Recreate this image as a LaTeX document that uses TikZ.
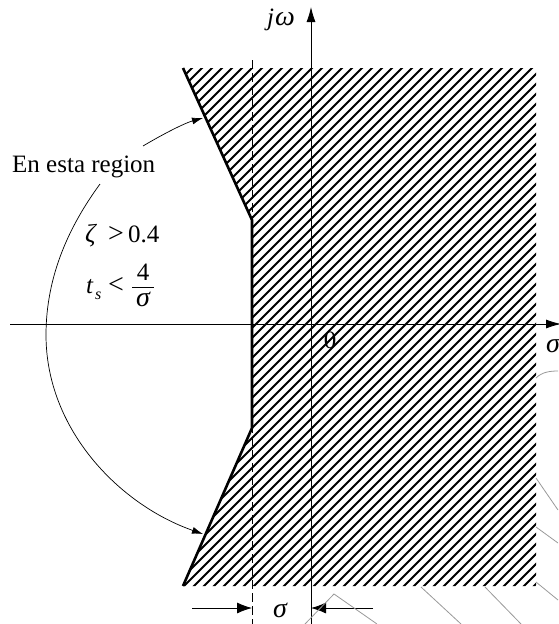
\documentclass[tikz,border=0pt]{standalone}
\usepackage{fontspec}
\setmainfont{Liberation Serif}
\usetikzlibrary{arrows.meta}
\begin{document}
\begin{tikzpicture}[x=1pt,y=-1pt,
  txt/.style={inner sep=0pt, font=\fontsize{25}{29}\selectfont},
  reltxt/.style={inner sep=0pt, font=\fontsize{28}{32}\selectfont},
  greektxt/.style={inner sep=0pt, font=\fontsize{26}{30}\selectfont\itshape},
  bigtxt/.style={inner sep=0pt, font=\fontsize{28}{32}\selectfont\itshape},
  subtxt/.style={inner sep=0pt, font=\fontsize{16}{19}\selectfont\itshape},
  axis/.style={line width=0.8pt, -{Latex[length=15pt,width=9pt]}},
  dimarrow/.style={line width=0.8pt, -{Latex[length=15pt,width=11pt]}},
  callout/.style={line width=0.7pt, -{Latex[length=11pt,width=7pt]}},
  bound/.style={line width=2.6pt, line join=miter},
  hatchline/.style={line width=1.8pt},
  ghost/.style={black!40, line width=0.8pt},
  fracbar/.style={line width=1pt}
]
\useasboundingbox (0,0) rectangle (558,624);

% region corners
\coordinate (p1) at (183,68);
\coordinate (p2) at (252,220);
\coordinate (p3) at (252,428);
\coordinate (p4) at (183,586);
\coordinate (p5) at (536,586);
\coordinate (p6) at (536,68);

% hatching
\begin{scope}
  \clip (p1) -- (p2) -- (p3) -- (p4) -- (p5) -- (p6) -- cycle;
  \foreach \c in {240,250,...,1140} \draw[hatchline] (\c-600,600) -- (\c-50,50);
\end{scope}

% dashed line
\coordinate (dt) at (252,60);
\coordinate (db) at (252,624);
\draw[line width=0.8pt, dash pattern=on 9pt off 4pt] (dt) -- (db);

% axes
\coordinate (vb) at (311,624);
\coordinate (vt) at (311,7);
\coordinate (hl) at (10,324);
\coordinate (hr) at (561,324);
\draw[axis] (hl) -- (hr);
\draw[axis] (vb) -- (vt);

% boundary
\draw[bound] (p1) -- (p2) -- (p3) -- (p4);

% labels
\node[txt, anchor=base west] (jj) at (267,25) {\itshape j};
\node[bigtxt, anchor=base west] (ww) at (275,25) {ω};
\node[txt, anchor=base] (zero) at (330,348) {0};
\node[bigtxt, anchor=base west] (sx) at (546,352) {σ};
\node[bigtxt, anchor=base] (sb) at (280,617) {σ};

\node[txt, anchor=base west] (lbl) at (12,172) {En esta region};
\node[greektxt, anchor=base west] (zeta) at (85,242) {ζ};
\node[reltxt, anchor=base west] (gt) at (108,242) {>};
\node[txt, anchor=base west] (val) at (128,242) {0.4};
\node[txt, anchor=base west] (tt) at (86,293) {\itshape t};
\node[subtxt, anchor=base west] (ss) at (95,299) {s};
\node[reltxt, anchor=base west] (lt) at (108,293) {<};
\node[txt, anchor=base] (four) at (143,280) {4};
\node[bigtxt, anchor=base] (sig) at (143,306) {σ};
\coordinate (fb1) at (132,287);
\coordinate (fb2) at (154,287);
\draw[fracbar] (fb1) -- (fb2);

% callout arrows
\coordinate (a1s) at (143,146);
\coordinate (a1e) at (203,118);
\draw[callout] (a1s) .. controls (165,133) and (185,123) .. (a1e);
\coordinate (a2s) at (100,184);
\coordinate (a2m) at (46,335);
\coordinate (a2e) at (203,534);
\draw[callout] (a2s) .. controls (70,225) and (46,275) .. (a2m)
  .. controls (46,430) and (120,505) .. (a2e);

% dimension arrows
\coordinate (dl0) at (192,608);
\coordinate (dl1) at (252,608);
\coordinate (dr0) at (373,608);
\coordinate (dr1) at (311,608);
\draw[dimarrow] (dl0) -- (dl1);
\draw[dimarrow] (dr0) -- (dr1);

% faint stray lines
\coordinate (g1) at (536,378);
\coordinate (g2) at (558,371);
\draw[ghost] (g1) .. controls (542,372) and (550,371) .. (g2);
\coordinate (g3) at (536,478); \coordinate (g4) at (558,510);
\draw[ghost] (g3) -- (g4);
\coordinate (g5) at (536,527); \coordinate (g6) at (558,543);
\draw[ghost] (g5) -- (g6);
\coordinate (g7) at (536,582); \coordinate (g8) at (558,600);
\draw[ghost] (g7) -- (g8);
\coordinate (g9) at (421,587); \coordinate (g10) at (461,624);
\draw[ghost] (g9) -- (g10);
\coordinate (g11) at (485,587); \coordinate (g12) at (521,624);
\draw[ghost] (g11) -- (g12);
\coordinate (g13) at (305,624); \coordinate (g14) at (334,594); \coordinate (g15) at (377,624);
\draw[ghost] (g13) -- (g14) -- (g15);
\end{tikzpicture}
\end{document}
